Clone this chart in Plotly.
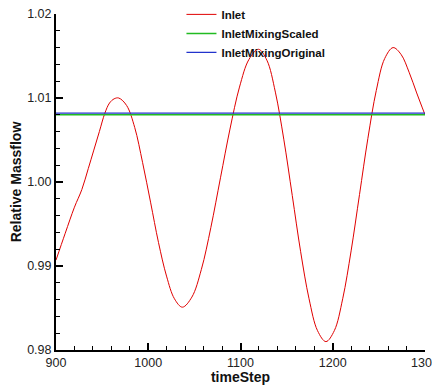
import plotly.graph_objects as go

# Inlet relative massflow
time_step = [900, 910, 920, 928, 935, 941, 947, 953, 958, 963, 968,
             976.6, 985.3, 993.9, 1002.5, 1011.1, 1019.8, 1028.4, 1037,
             1047.3, 1057.6, 1067.9, 1078.3, 1088.6, 1098.9, 1109.2, 1119.5,
             1128.6, 1137.8, 1146.9, 1156.1, 1165.2, 1174.3, 1183.5, 1192.6,
             1201.7, 1210.8, 1219.9, 1229.0, 1238.1, 1247.2, 1256.3, 1265.4,
             1274, 1283, 1291, 1300]
inlet = [0.9907, 0.9939, 0.9970, 0.9991, 1.0016, 1.0038, 1.0060, 1.0082, 1.0094, 1.0099, 1.0100,
         1.0091, 1.0065, 1.0023, 0.9976, 0.9928, 0.9888, 0.9861, 0.9851,
         0.9863, 0.9896, 0.9946, 1.0005, 1.0063, 1.0113, 1.0146, 1.0158,
         1.0145, 1.0107, 1.0051, 0.9984, 0.9917, 0.9861, 0.9823, 0.9810,
         0.9823, 0.9861, 0.9918, 0.9985, 1.0052, 1.0109, 1.0147, 1.0160,
         1.0152, 1.0130, 1.0106, 1.0080]

mix_x = [900, 1300]
mixing_scaled = [1.0080, 1.0080]
mixing_original = [1.0082, 1.0082]

x_ticks = [900, 1000, 1100, 1200, 1300]
y_ticks = [0.98, 0.99, 1.00, 1.01, 1.02]
y_tick_text = ["0.98", "0.99", "1.00", "1.01", "1.02"]

fig = go.Figure()
fig.add_trace(go.Scatter(x=time_step, y=inlet, mode="lines", name="Inlet",
                         line=dict(color="#e00000", width=1, shape="spline")))
fig.add_trace(go.Scatter(x=mix_x, y=mixing_scaled, mode="lines", name="InletMixingScaled",
                         line=dict(color="#22bb22", width=1.5)))
fig.add_trace(go.Scatter(x=mix_x, y=mixing_original, mode="lines", name="InletMixingOriginal",
                         line=dict(color="#2233cc", width=1.2)))

axis_font = dict(family="Liberation Sans, Arial", size=12.5, color="#222")
title_font = dict(family="Liberation Sans, Arial", size=14, color="#111", weight="bold")

fig.update_layout(
    width=432, height=377,
    margin=dict(l=48, r=15, t=6, b=35, autoexpand=False),
    paper_bgcolor="white", plot_bgcolor="white",
    showlegend=True,
    legend=dict(x=0.34, y=1.042, xanchor="left", yanchor="top",
                bgcolor="rgba(0,0,0,0)",
                font=dict(family="Liberation Sans, Arial", size=11.5, color="#111", weight="bold"),
                tracegroupgap=0),
    xaxis=dict(range=[900, 1300], tickvals=x_ticks, ticks="inside", ticklen=7,
               tickwidth=1.5, tickcolor="black", showline=True, linecolor="black",
               linewidth=2, showgrid=False, zeroline=False, tickfont=axis_font,
               ticklabeloverflow="allow",
               minor=dict(dtick=20, ticks="inside", ticklen=4, tickcolor="black", tickwidth=1),
               title=dict(text="timeStep", font=title_font, standoff=3)),
    yaxis=dict(range=[0.98, 1.02], tickvals=y_ticks, ticktext=y_tick_text, ticks="inside",
               ticklen=7, tickwidth=1.5, tickcolor="black", showline=True,
               linecolor="black", linewidth=2, showgrid=False, zeroline=False,
               tickfont=axis_font, ticklabeloverflow="allow",
               minor=dict(dtick=0.002, ticks="inside", ticklen=4, tickcolor="black", tickwidth=1),
               title=dict(text="Relative Massflow", font=title_font, standoff=4)),
)

fig.write_html("out.html")
